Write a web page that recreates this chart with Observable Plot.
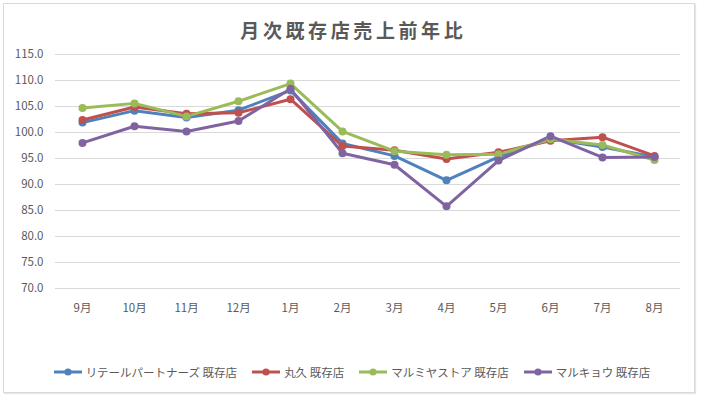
<!DOCTYPE html>
<html>
<head>
<meta charset="utf-8">
<script src="https://cdn.jsdelivr.net/npm/d3@7"></script>
<script src="https://cdn.jsdelivr.net/npm/@observablehq/plot@0.6"></script>
<style>
  body { margin: 0; background: #fff; }
  #wrap { position: relative; width: 703px; height: 399px; overflow: hidden; font-family: "Noto Sans CJK JP", sans-serif; }
  #frame { position: absolute; left: 3px; top: 3px; width: 690px; height: 388px; border: 1px solid #d9d9d9; box-shadow: 1px 1px 1px #e6e6e6; }
  #title { position: absolute; left: 0; top: 16px; width: 703px; text-align: center; font-size: 19px; font-weight: bold; color: #595959; letter-spacing: 3.6px; text-indent: 3.6px; }
  #chart { position: absolute; left: 0; top: 0; }
  #legend { position: absolute; left: 0; top: 364px; width: 703px; display: flex; justify-content: center; gap: 14px; font-size: 11.5px; color: #595959; }
  .item { display: flex; align-items: center; gap: 3px; }
</style>
</head>
<body>
<div id="wrap">
  <div id="frame"></div>
  <div id="chart"></div>
  <div id="title">月次既存店売上前年比</div>
  <div id="legend"></div>
</div>
<script>
const months = ["9月","10月","11月","12月","1月","2月","3月","4月","5月","6月","7月","8月"];
const seriesNames = ["リテールパートナーズ 既存店","丸久 既存店","マルミヤストア 既存店","マルキョウ 既存店"];
const retailPartners = [101.9,104.2,102.9,104.3,108.1,97.9,95.5,90.8,95.3,98.8,97.2,95.3];
const marukyu = [102.4,104.9,103.6,103.8,106.4,97.4,96.6,94.9,96.2,98.4,99.1,95.5];
const marumiya = [104.7,105.6,103.1,106.0,109.4,100.2,96.4,95.7,95.8,98.7,97.6,94.7];
const marukyo = [98.0,101.2,100.2,102.2,108.4,96.0,93.8,85.8,94.6,99.3,95.2,95.3];
const yTicks = [70,75,80,85,90,95,100,105,110,115];
const colors = ["#4f81bd","#c0504d","#9bbb59","#8064a2"];

const allSeries = [retailPartners, marukyu, marumiya, marukyo];
const data = allSeries.flatMap((vals, i) => vals.map((v, j) => ({month: months[j], value: v, series: seriesNames[i]})));

const chart = Plot.plot({
  width: 703,
  height: 399,
  marginTop: 54,
  marginBottom: 111,
  marginLeft: 55,
  marginRight: 23,
  style: {fontFamily: '"Noto Sans CJK JP", sans-serif', fontSize: "11px", color: "#595959", background: "transparent"},
  x: {type: "point", domain: months, padding: 0.5, label: null},
  y: {domain: [70, 115], label: null},
  color: {domain: seriesNames, range: colors},
  marks: [
    Plot.gridY(yTicks, {stroke: "#d9d9d9", strokeOpacity: 1, strokeWidth: 1}),
    Plot.axisY(yTicks, {tickSize: 0, tickPadding: 12, tickFormat: d => d.toFixed(1), fill: "#595959", fontSize: 11.5}),
    Plot.axisX(months, {tickSize: 0, tickPadding: 15, fill: "#595959", fontSize: 11.5}),
    Plot.line(data, {x: "month", y: "value", z: "series", stroke: "series", strokeWidth: 3}),
    Plot.dot(data, {x: "month", y: "value", fill: "series", r: 4})
  ]
});
document.getElementById("chart").appendChild(chart);

const legend = document.getElementById("legend");
seriesNames.forEach((name, i) => {
  const item = document.createElement("div");
  item.className = "item";
  item.innerHTML = `<svg width="30" height="10"><line x1="1" y1="5" x2="29" y2="5" stroke="${colors[i]}" stroke-width="3"/><circle cx="15" cy="5" r="3.6" fill="${colors[i]}"/></svg><span>${name}</span>`;
  legend.appendChild(item);
});
</script>
</body>
</html>
